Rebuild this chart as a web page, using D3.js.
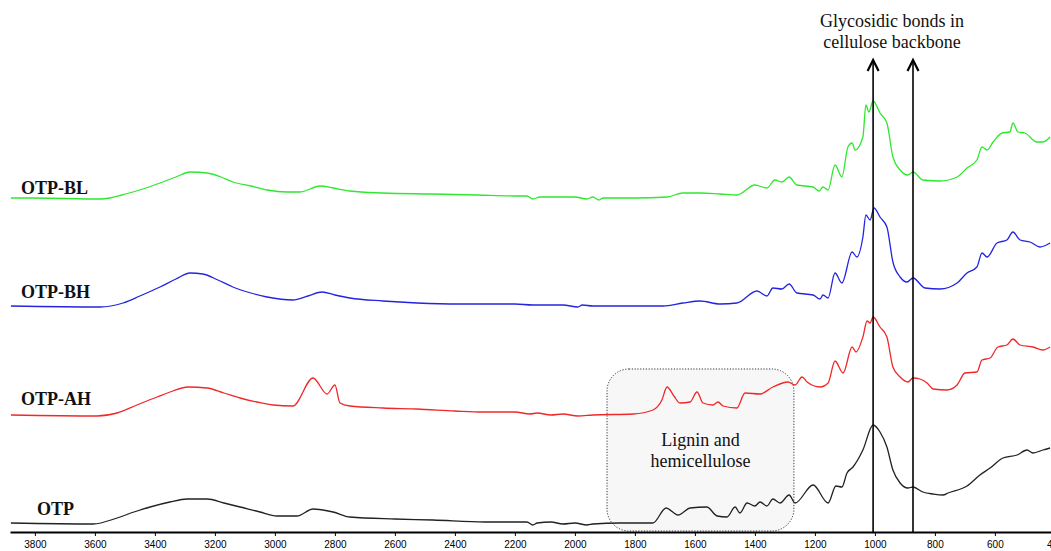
<!DOCTYPE html>
<html>
<head>
<meta charset="utf-8">
<script src="https://cdn.jsdelivr.net/npm/d3@7"></script>
<style>
  body { margin: 0; background: #fff; }
  .tick text { font-family: "Liberation Sans", Arial, sans-serif; font-size: 10px; }
</style>
</head>
<body>
<div id="chart"></div>
<script>
// wavenumber (cm-1), absorbance a.u. (stacked)
const otpBL = [[3880,3.34],[3806,3.34],[3583,3.33],[3550,3.34],[3510,3.37],[3473,3.40],[3430,3.44],[3383,3.49],[3330,3.55],[3283,3.60],[3226,3.59],[3180,3.55],[3140,3.50],[3080,3.46],[3026,3.42],[2960,3.40],[2916,3.40],[2850,3.46],[2806,3.44],[2750,3.41],[2640,3.39],[2480,3.38],[2326,3.37],[2200,3.36],[2160,3.36],[2140,3.33],[2116,3.35],[2000,3.35],[1960,3.33],[1940,3.35],[1920,3.32],[1906,3.34],[1800,3.34],[1693,3.35],[1640,3.39],[1583,3.39],[1516,3.38],[1460,3.37],[1400,3.47],[1360,3.44],[1333,3.52],[1310,3.50],[1286,3.55],[1260,3.47],[1206,3.45],[1186,3.41],[1173,3.45],[1156,3.42],[1133,3.67],[1110,3.55],[1090,3.85],[1076,3.89],[1066,3.82],[1040,3.95],[1030,4.27],[1020,4.20],[1006,4.31],[983,4.19],[960,4.09],[940,3.75],[916,3.62],[890,3.57],[873,3.60],[840,3.52],[783,3.51],[726,3.55],[693,3.64],[660,3.72],[643,3.85],[626,3.82],[606,3.90],[576,3.99],[550,4.00],[540,4.09],[523,4.00],[500,3.99],[460,3.90],[440,3.90],[416,3.95]];
const otpBH = [[3880,2.26],[3583,2.25],[3506,2.29],[3450,2.36],[3383,2.45],[3330,2.53],[3283,2.59],[3240,2.58],[3190,2.52],[3140,2.45],[3080,2.39],[3026,2.35],[2940,2.32],[2890,2.36],[2843,2.40],[2800,2.37],[2750,2.34],[2640,2.31],[2526,2.29],[2383,2.28],[2200,2.28],[2140,2.27],[2040,2.27],[1990,2.25],[1975,2.27],[1940,2.26],[1800,2.26],[1706,2.26],[1640,2.29],[1583,2.31],[1516,2.28],[1460,2.29],[1393,2.41],[1360,2.36],[1340,2.44],[1310,2.43],[1286,2.48],[1260,2.39],[1206,2.37],[1183,2.33],[1173,2.37],[1156,2.34],[1133,2.59],[1110,2.49],[1076,2.80],[1060,2.75],[1040,2.95],[1030,3.17],[1016,3.12],[1003,3.24],[983,3.15],[960,3.05],[940,2.70],[916,2.55],[893,2.50],[873,2.54],[833,2.44],[783,2.43],[726,2.49],[693,2.59],[660,2.65],[643,2.79],[626,2.75],[593,2.89],[560,2.92],[540,3.00],[516,2.92],[483,2.90],[450,2.85],[416,2.89]];
const otpAH = [[3880,1.17],[3593,1.16],[3526,1.19],[3460,1.27],[3393,1.35],[3340,1.41],[3290,1.45],[3226,1.44],[3170,1.39],[3116,1.34],[3060,1.30],[3006,1.27],[2940,1.26],[2873,1.54],[2826,1.38],[2800,1.47],[2783,1.29],[2750,1.26],[2640,1.24],[2526,1.23],[2400,1.21],[2306,1.20],[2200,1.20],[2150,1.18],[2126,1.19],[2080,1.17],[2040,1.18],[1990,1.16],[1940,1.17],[1806,1.18],[1740,1.22],[1710,1.32],[1693,1.45],[1670,1.36],[1650,1.29],[1616,1.30],[1593,1.40],[1573,1.29],[1540,1.27],[1523,1.30],[1506,1.26],[1460,1.24],[1433,1.39],[1383,1.38],[1340,1.45],[1290,1.50],[1266,1.47],[1243,1.55],[1226,1.50],[1183,1.45],[1156,1.49],[1133,1.71],[1106,1.59],[1076,1.85],[1063,1.80],[1040,1.95],[1026,2.11],[1016,2.09],[1006,2.15],[983,2.05],[960,1.95],[940,1.65],[916,1.55],[890,1.50],[873,1.54],[850,1.53],[826,1.49],[806,1.43],[760,1.42],[726,1.47],[700,1.59],[660,1.60],[643,1.72],[616,1.74],[590,1.85],[560,1.87],[540,1.93],[516,1.87],[473,1.85],[440,1.82],[416,1.85]];
const otp = [[3880,0.09],[3606,0.08],[3526,0.14],[3470,0.20],[3416,0.25],[3350,0.30],[3293,0.33],[3226,0.33],[3170,0.29],[3116,0.25],[3050,0.20],[2993,0.16],[2926,0.16],[2873,0.23],[2806,0.20],[2750,0.15],[2600,0.13],[2473,0.12],[2300,0.10],[2160,0.10],[2140,0.07],[2126,0.09],[2080,0.10],[2040,0.08],[2000,0.09],[1960,0.07],[1940,0.08],[1850,0.09],[1750,0.09],[1740,0.09],[1696,0.24],[1656,0.17],[1616,0.24],[1560,0.25],[1526,0.16],[1493,0.15],[1466,0.25],[1450,0.19],[1426,0.29],[1400,0.26],[1383,0.30],[1360,0.26],[1340,0.33],[1316,0.29],[1286,0.37],[1266,0.29],[1206,0.47],[1156,0.29],[1130,0.46],[1110,0.45],[1093,0.59],[1073,0.65],[1040,0.82],[1006,1.07],[983,1.00],[960,0.85],[940,0.62],[916,0.49],[890,0.44],[873,0.45],[840,0.40],[806,0.38],[773,0.37],[756,0.39],[693,0.46],[650,0.57],[616,0.64],[573,0.74],[526,0.77],[493,0.82],[473,0.79],[440,0.82],[416,0.84]];

const seriesNames = ["OTP-BL", "OTP-BH", "OTP-AH", "OTP"];
const seriesData = [otpBL, otpBH, otpAH, otp];
const seriesColors = ["#2ee82e", "#2424e0", "#f02828", "#222222"];
const labelLevels = [3.39, 2.35, 1.28, 0.18];

const xTicks = [3800, 3600, 3400, 3200, 3000, 2800, 2600, 2400, 2200, 2000, 1800, 1600, 1400, 1200, 1000, 800, 600, 400];
const bondLines = [1006, 873];
const bondText = ["Glycosidic bonds in", "cellulose backbone"];
const ligninRange = [1893, 1270];
const ligninText = ["Lignin and", "hemicellulose"];

const width = 1051, height = 551;

const svg = d3.select("#chart").append("svg")
    .attr("width", width)
    .attr("height", height)

const x = d3.scaleLinear().domain([3883, 383]).range([10, 1060])
const y = d3.scaleLinear().domain([0, 5.2]).range([532, 12])

// lignin box (behind curves)
svg.append("rect")
    .attr("x", x(ligninRange[0]))
    .attr("y", y(1.63))
    .attr("width", x(ligninRange[1]) - x(ligninRange[0]))
    .attr("height", y(0.01) - y(1.63))
    .attr("rx", 22).attr("ry", 22)
    .attr("fill", "#f7f7f7")
    .attr("stroke", "#333")
    .attr("stroke-width", 1)
    .attr("stroke-dasharray", "1.2,1.6")

const line = d3.line()
    .x(d => x(d[0]))
    .y(d => y(d[1]))
    .curve(d3.curveMonotoneX)

svg.selectAll(".spec")
    .data(seriesData)
    .enter()
    .append("path")
    .attr("class", "spec")
    .attr("d", line)
    .attr("fill", "none")
    .attr("stroke", (d, i) => seriesColors[i])
    .attr("stroke-width", 1.3)

svg.selectAll(".lbl")
    .data(seriesNames)
    .enter()
    .append("text")
    .attr("class", "lbl")
    .attr("x", (d, i) => d == "OTP" ? 37 : 21)
    .attr("y", (d, i) => y(labelLevels[i]) + 1)
    .attr("font-family", "Liberation Serif, Times New Roman, serif")
    .attr("font-weight", "bold")
    .attr("font-size", "18px")
    .attr("fill", "#111")
    .text(d => d)

// lignin text
ligninText.forEach((t, i) => {
    svg.append("text")
        .attr("x", (x(ligninRange[0]) + x(ligninRange[1])) / 2)
        .attr("y", 446 + i * 21)
        .attr("text-anchor", "middle")
        .attr("font-family", "Liberation Serif, Times New Roman, serif")
        .attr("font-size", "18px")
        .attr("fill", "#111")
        .text(t)
})

// axis
const axis = svg.append("g")
    .attr("transform", "translate(0," + y(0) + ")")
    .call(d3.axisBottom(x).tickValues(xTicks).tickFormat(d3.format("d")).tickSize(4).tickSizeOuter(0).tickPadding(5))
axis.select(".domain").attr("stroke-width", 2)

// glycosidic bond arrows
svg.selectAll(".bond")
    .data(bondLines)
    .enter()
    .append("line")
    .attr("class", "bond")
    .attr("x1", d => x(d)).attr("x2", d => x(d))
    .attr("y1", y(0)).attr("y2", y(4.71))
    .attr("stroke", "#000")
    .attr("stroke-width", 1.6)

svg.selectAll(".head")
    .data(bondLines)
    .enter()
    .append("path")
    .attr("class", "head")
    .attr("d", d => {
        const px = x(d), py = y(4.72)
        return "M" + (px - 5.5) + "," + (py + 11) + "L" + px + "," + py + "L" + (px + 5.5) + "," + (py + 11)
    })
    .attr("fill", "none")
    .attr("stroke", "#000")
    .attr("stroke-width", 2.2)

bondText.forEach((t, i) => {
    svg.append("text")
        .attr("x", 892)
        .attr("y", 27 + i * 21)
        .attr("text-anchor", "middle")
        .attr("font-family", "Liberation Serif, Times New Roman, serif")
        .attr("font-size", "18px")
        .attr("fill", "#111")
        .text(t)
})
</script>
</body>
</html>
